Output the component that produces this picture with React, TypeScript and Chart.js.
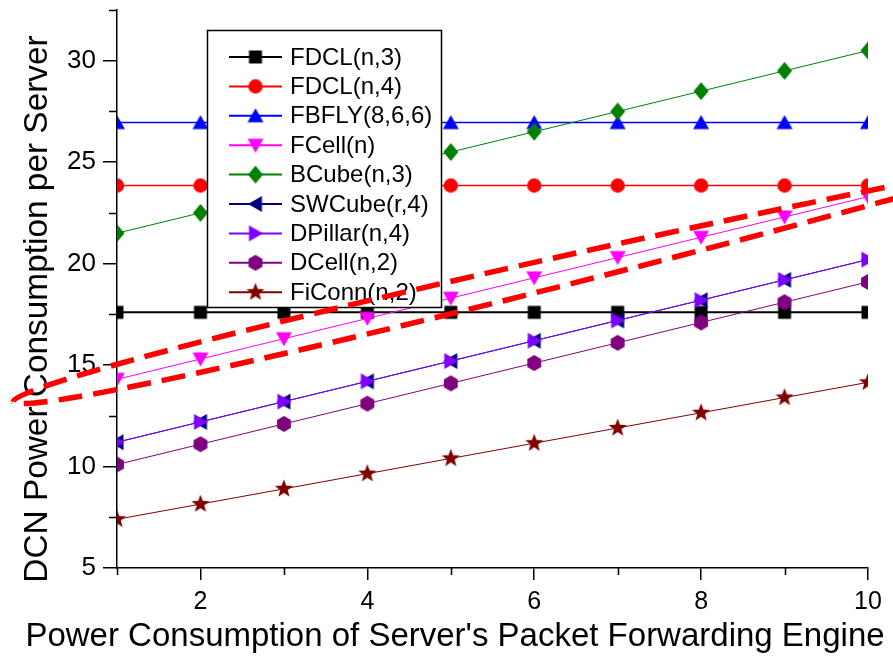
import React, { useEffect, useRef } from "react";
import { Chart, registerables } from "chart.js";

Chart.register(...registerables);

// ---------- data ----------
const xValues = [1, 2, 3, 4, 5, 6, 7, 8, 9, 10];
const fdcl3 = [17.6, 17.6, 17.6, 17.6, 17.6, 17.6, 17.6, 17.6, 17.6, 17.6];
const fdcl4 = [23.85, 23.85, 23.85, 23.85, 23.85, 23.85, 23.85, 23.85, 23.85, 23.85];
const fbfly = [26.95, 26.95, 26.95, 26.95, 26.95, 26.95, 26.95, 26.95, 26.95, 26.95];
const fcell = [14.3, 15.3, 16.3, 17.3, 18.3, 19.3, 20.3, 21.3, 22.3, 23.3];
const bcube = [21.5, 22.5, 23.5, 24.5, 25.5, 26.5, 27.5, 28.5, 29.5, 30.5];
const swcube = [11.2, 12.2, 13.2, 14.2, 15.2, 16.2, 17.2, 18.2, 19.2, 20.2];
const dpillar = [11.2, 12.2, 13.2, 14.2, 15.2, 16.2, 17.2, 18.2, 19.2, 20.2];
const dcell = [10.1, 11.1, 12.1, 13.1, 14.1, 15.1, 16.1, 17.1, 18.1, 19.1];
const ficonn = [7.4, 8.15, 8.9, 9.65, 10.4, 11.15, 11.9, 12.65, 13.4, 14.15];

const seriesNames = [
  "FDCL(n,3)",
  "FDCL(n,4)",
  "FBFLY(8,6,6)",
  "FCell(n)",
  "BCube(n,3)",
  "SWCube(r,4)",
  "DPillar(n,4)",
  "DCell(n,2)",
  "FiConn(n,2)",
];
const seriesValues = [fdcl3, fdcl4, fbfly, fcell, bcube, swcube, dpillar, dcell, ficonn];

const xTickValues = [2, 4, 6, 8, 10];
const xMinorTicks = [1, 3, 5, 7, 9];
const yTickValues = [5, 10, 15, 20, 25, 30];
const yMinorTicks = [7.5, 12.5, 17.5, 22.5, 27.5, 32.5];

const xTitle = "Power Consumption of Server's Packet Forwarding Engine";
const yTitle = "DCN Power Consumption per Server";

// annotation (dashed lens around FCell), tips in data coordinates
const annoLeftTip = { x: -0.246, y: 13.19 };
const annoRightTip = { x: 12.18, y: 25.36 };

// ---------- styles ----------
const seriesStyles = [
  { color: "#000000", shape: "square", width: 2 },
  { color: "#ff0000", shape: "circle", width: 1.5 },
  { color: "#0000ff", shape: "up", width: 1.5 },
  { color: "#ff00ff", shape: "down", width: 1 },
  { color: "#008000", shape: "diamond", width: 1 },
  { color: "#000080", shape: "left", width: 1 },
  { color: "#8000ff", shape: "right", width: 1 },
  { color: "#800080", shape: "hexagon", width: 1 },
  { color: "#800000", shape: "star", width: 1 },
];

const FONT = "'Liberation Sans', Arial, Helvetica, sans-serif";

function makeMarker(shape: string, color: string): HTMLCanvasElement {
  const S = 22;
  const c = document.createElement("canvas");
  c.width = S;
  c.height = S;
  const ctx = c.getContext("2d")!;
  ctx.fillStyle = color;
  const cx = S / 2;
  const cy = S / 2;
  ctx.beginPath();
  switch (shape) {
    case "square":
      ctx.rect(cx - 6.5, cy - 6.5, 13, 13);
      break;
    case "circle":
      ctx.arc(cx, cy, 7.2, 0, Math.PI * 2);
      break;
    case "up":
      ctx.moveTo(cx, cy - 7.5);
      ctx.lineTo(cx + 8, cy + 6.5);
      ctx.lineTo(cx - 8, cy + 6.5);
      break;
    case "down":
      ctx.moveTo(cx, cy + 7.5);
      ctx.lineTo(cx + 8, cy - 6.5);
      ctx.lineTo(cx - 8, cy - 6.5);
      break;
    case "left":
      ctx.moveTo(cx - 7.5, cy);
      ctx.lineTo(cx + 6.5, cy - 8);
      ctx.lineTo(cx + 6.5, cy + 8);
      break;
    case "right":
      ctx.moveTo(cx + 7.5, cy);
      ctx.lineTo(cx - 6.5, cy - 8);
      ctx.lineTo(cx - 6.5, cy + 8);
      break;
    case "diamond":
      ctx.moveTo(cx, cy - 9);
      ctx.lineTo(cx + 7.5, cy);
      ctx.lineTo(cx, cy + 9);
      ctx.lineTo(cx - 7.5, cy);
      break;
    case "hexagon":
      for (let k = 0; k < 6; k++) {
        const a = -Math.PI / 2 + (k * Math.PI) / 3;
        const px = cx + Math.cos(a) * 8;
        const py = cy + Math.sin(a) * 8;
        if (k === 0) ctx.moveTo(px, py);
        else ctx.lineTo(px, py);
      }
      break;
    case "star":
      for (let k = 0; k < 10; k++) {
        const a = -Math.PI / 2 + (k * Math.PI) / 5;
        const r = k % 2 === 0 ? 9.5 : 4;
        const px = cx + Math.cos(a) * r;
        const py = cy + Math.sin(a) * r;
        if (k === 0) ctx.moveTo(px, py);
        else ctx.lineTo(px, py);
      }
      break;
  }
  ctx.closePath();
  ctx.fill();
  return c;
}

export default function App() {
  const ref = useRef<HTMLCanvasElement>(null);

  useEffect(() => {
    const markers = seriesStyles.map((s) => makeMarker(s.shape, s.color));

    const decor = {
      id: "decor",
      afterDraw(chart: any) {
        const ctx: CanvasRenderingContext2D = chart.ctx;
        const ca = chart.chartArea;
        const xs = chart.scales.x;
        const ys = chart.scales.y;
        ctx.save();

        // minor ticks
        ctx.strokeStyle = "#000";
        ctx.lineWidth = 1.5;
        ctx.beginPath();
        yMinorTicks.forEach((v) => {
          const py = Math.round(ys.getPixelForValue(v)) + 0.5;
          ctx.moveTo(ca.left - 8, py);
          ctx.lineTo(ca.left, py);
        });
        xMinorTicks.forEach((v) => {
          const px = Math.round(xs.getPixelForValue(v)) + 0.5;
          ctx.moveTo(px, ca.bottom);
          ctx.lineTo(px, ca.bottom + 7);
        });
        ctx.stroke();

        // legend box
        const lx = 207.5, ly = 30.5, lw = 234, lh = 277;
        ctx.fillStyle = "#fff";
        ctx.fillRect(lx, ly, lw, lh);
        ctx.strokeStyle = "#000";
        ctx.lineWidth = 1.5;
        ctx.strokeRect(lx, ly, lw, lh);
        ctx.font = `24px ${FONT}`;
        ctx.textBaseline = "middle";
        ctx.textAlign = "left";
        seriesNames.forEach((name, i) => {
          const ry = 57 + i * 29.4;
          const st = seriesStyles[i];
          ctx.strokeStyle = st.color;
          ctx.lineWidth = 2;
          ctx.beginPath();
          ctx.moveTo(229, ry);
          ctx.lineTo(282, ry);
          ctx.stroke();
          const m = markers[i];
          ctx.drawImage(m, 255.5 - m.width / 2, ry - m.height / 2);
          ctx.fillStyle = "#000";
          ctx.fillText(name, 290, ry + 1);
        });

        // axis titles
        ctx.fillStyle = "#000";
        ctx.font = `33px ${FONT}`;
        ctx.textAlign = "center";
        ctx.textBaseline = "alphabetic";
        ctx.fillText(xTitle, 455, 646);
        ctx.save();
        ctx.translate(47, 309);
        ctx.rotate(-Math.PI / 2);
        ctx.font = `33.4px ${FONT}`;
        ctx.fillText(yTitle, 0, 0);
        ctx.restore();

        // dashed annotation lens
        const x0 = xs.getPixelForValue(annoLeftTip.x);
        const y0 = ys.getPixelForValue(annoLeftTip.y);
        const x1 = xs.getPixelForValue(annoRightTip.x);
        const y1 = ys.getPixelForValue(annoRightTip.y);
        const L = Math.hypot(x1 - x0, y1 - y0);
        const ang = Math.atan2(y1 - y0, x1 - x0);
        ctx.translate(x0, y0);
        ctx.rotate(ang);
        ctx.strokeStyle = "#ff0000";
        ctx.lineWidth = 5.5;
        ctx.setLineDash([24, 11]);
        ctx.beginPath();
        ctx.moveTo(0, 0);
        ctx.bezierCurveTo(10, -22, L * 0.56, -21, L, 0);
        ctx.bezierCurveTo(L * 0.56, 21, 10, 22, 0, 0);
        ctx.stroke();
        ctx.restore();
      },
    };

    const n = seriesNames.length;
    const chart = new Chart(ref.current!, {
      type: "line",
      data: {
        datasets: seriesNames.map((name, i) => ({
          label: name,
          data: seriesValues[i].map((v, j) => ({ x: xValues[j], y: v })),
          borderColor: seriesStyles[i].color,
          backgroundColor: seriesStyles[i].color,
          borderWidth: seriesStyles[i].width,
          pointStyle: markers[i] as any,
          pointRadius: 8,
          pointHoverRadius: 8,
          tension: 0,
          fill: false,
          clip: 0,
          order: n - i,
        })),
      },
      options: {
        responsive: false,
        animation: false,
        devicePixelRatio: 1,
        events: [],
        layout: { padding: { top: 10, right: 25, left: 0, bottom: 0 } },
        plugins: { legend: { display: false }, tooltip: { enabled: false } },
        scales: {
          x: {
            type: "linear",
            min: 1,
            max: 10,
            afterBuildTicks: (s: any) => {
              s.ticks = xTickValues.map((v) => ({ value: v }));
            },
            afterFit: (s: any) => {
              s.height = 88;
              s.paddingLeft = 0;
              s.paddingRight = 0;
            },
            ticks: {
              autoSkip: false,
              maxRotation: 0,
              color: "#000",
              padding: 7,
              font: { size: 25, family: FONT },
            },
            grid: {
              drawOnChartArea: false,
              drawTicks: true,
              tickLength: 12,
              color: "#000",
              lineWidth: 1.5,
            },
            border: { display: true, color: "#000", width: 1.5 },
          },
          y: {
            type: "linear",
            min: 5,
            max: 32.5,
            afterBuildTicks: (s: any) => {
              s.ticks = yTickValues.map((v) => ({ value: v }));
            },
            afterFit: (s: any) => {
              s.width = 117;
              s.paddingTop = 0;
              s.paddingBottom = 0;
            },
            ticks: {
              autoSkip: false,
              color: "#000",
              padding: 7,
              font: { size: 26, family: FONT },
            },
            grid: {
              drawOnChartArea: false,
              drawTicks: true,
              tickLength: 14,
              color: "#000",
              lineWidth: 1.5,
            },
            border: { display: true, color: "#000", width: 1.5 },
          },
        },
      },
      plugins: [decor],
    } as any);
    return () => chart.destroy();
  }, []);

  return (
    <div style={{ position: "absolute", left: 0, top: 0, width: 893, height: 656, background: "#fff" }}>
      <canvas ref={ref} width={893} height={656} style={{ display: "block", width: 893, height: 656 }} />
    </div>
  );
}
